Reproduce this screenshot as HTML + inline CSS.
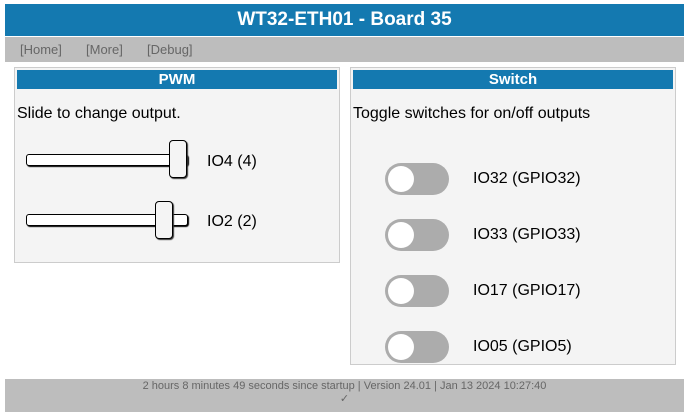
<!DOCTYPE html>
<html><head><style>
body{margin:0;width:689px;height:411px;background:#fff;font-family:"Liberation Sans",Arial,sans-serif;position:relative;overflow:hidden}
.a{position:absolute}
.hdr{left:5px;top:4px;width:679px;height:32px;background:#1479b0;color:#fff;font-weight:bold;font-size:19px;text-align:center;line-height:32px}
.nav{left:5px;top:37px;width:679px;height:25px;background:#bdbdbd;color:#666;font-size:13px;line-height:26px}
.pan{background:#f4f4f4;border:1px solid #ccc;box-sizing:border-box}
.tt{background:#1479b0;color:#fff;font-weight:bold;font-size:15px;text-align:center;line-height:19px;height:19px}
.t{font-size:16px;color:#000}
.trk{height:12px;width:162px;background:#fff;border:1px solid #000;border-radius:3px;box-sizing:border-box;box-shadow:1px 1px 1px #000}
.th{width:18px;height:38px;background:#f4f4f4;border:1px solid #000;border-radius:4px;box-sizing:border-box;box-shadow:1px 1px 1px #333}
.sw{width:64px;height:32px;border-radius:16px;background:#acacac}
.sw::after{content:"";position:absolute;left:3px;top:3px;width:26px;height:26px;border-radius:50%;background:#fff}
.ft{left:5px;top:379px;width:679px;height:32px;background:#bdbdbd;color:#666;font-size:11px;text-align:center;line-height:13px;padding-top:1px}
</style></head><body>
<div class="a hdr">WT32-ETH01 - Board 35</div>
<div class="a nav"><span class="a" style="left:15px">[Home]</span><span class="a" style="left:81px">[More]</span><span class="a" style="left:142px">[Debug]</span></div>
<div class="a pan" style="left:14px;top:67px;width:326px;height:196px"></div>
<div class="a tt" style="left:17px;top:70px;width:320px">PWM</div>
<div class="a t" style="left:17px;top:105px">Slide to change output.</div>
<div class="a trk" style="left:26px;top:154px"></div>
<div class="a th" style="left:169px;top:140px"></div>
<div class="a t" style="left:207px;top:153px">IO4 (4)</div>
<div class="a trk" style="left:26px;top:214px"></div>
<div class="a th" style="left:155px;top:201px"></div>
<div class="a t" style="left:207px;top:213px">IO2 (2)</div>
<div class="a pan" style="left:350px;top:67px;width:326px;height:298px"></div>
<div class="a tt" style="left:353px;top:70px;width:320px">Switch</div>
<div class="a t" style="left:353px;top:105px">Toggle switches for on/off outputs</div>
<div class="a sw" style="left:385px;top:163px"></div><div class="a t" style="left:473px;top:170px">IO32 (GPIO32)</div>
<div class="a sw" style="left:385px;top:219px"></div><div class="a t" style="left:473px;top:226px">IO33 (GPIO33)</div>
<div class="a sw" style="left:385px;top:275px"></div><div class="a t" style="left:473px;top:282px">IO17 (GPIO17)</div>
<div class="a sw" style="left:385px;top:331px"></div><div class="a t" style="left:473px;top:338px">IO05 (GPIO5)</div>
<div class="a ft">2 hours 8 minutes 49 seconds since startup | Version 24.01 | Jan 13 2024 10:27:40<br>✓</div>
</body></html>
